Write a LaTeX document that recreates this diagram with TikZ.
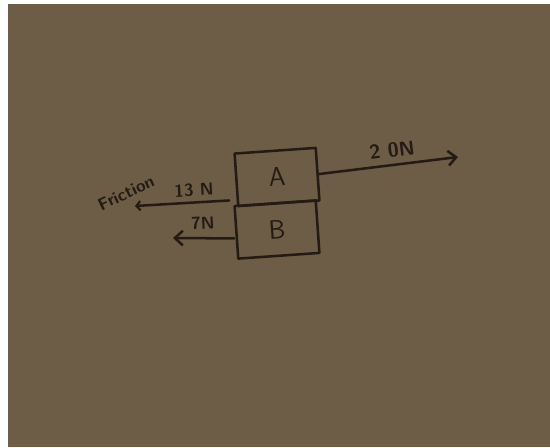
\documentclass[tikz,border=0pt]{standalone}
\usepackage{fontspec}
\usetikzlibrary{arrows.meta,calc}
\definecolor{paper}{RGB}{109,92,70}
\definecolor{ink}{RGB}{36,28,20}
\begin{document}
\begin{tikzpicture}[x=0.75pt,y=-0.75pt,
  ink/.style={draw=ink,line width=1.9pt,line cap=round,line join=round},
  blockbox/.style={ink,rectangle,rotate=4,minimum width=61pt,minimum height=39.5pt,inner sep=0pt,text=ink,font=\sffamily\fontsize{20}{20}\selectfont},
  lbl/.style={text=ink,inner sep=0pt,font=\sffamily},
  force/.style={ink,-{Straight Barb[length=6pt,width=11pt,line width=1.9pt]}}]
\useasboundingbox (0,0) rectangle (550,447);
\fill[white] (0,0) rectangle (550,447);
\fill[paper] (8,4) rectangle (550,447);
\node[blockbox] (A) at (277,177) {A};
\node[blockbox] (B) at (277,229.5) {B};
\coordinate (r) at (458,157);
\coordinate (f) at (135,206);
\coordinate (s) at (173,238);
\draw[force] (A.east) -- (r);
\draw[force,-{Straight Barb[length=3pt,width=7pt,line width=1.6pt]}] ($(A.south west)+(-8,-7)$) -- (f);
\draw[force] ($(B.west)+(-1,6)$) -- (s);
\node[lbl,rotate=7,font=\sffamily\bfseries\fontsize{15}{15}\selectfont] (t20) at (392,150) {2 0N};
\node[lbl,rotate=3,font=\sffamily\bfseries\fontsize{13}{13}\selectfont] (t13) at (194,190) {13 N};
\node[lbl,rotate=25,font=\sffamily\bfseries\fontsize{13}{13}\selectfont] (tf) at (126,193) {Friction};
\node[lbl,rotate=3,font=\sffamily\bfseries\fontsize{13}{13}\selectfont] (t7) at (203,223) {7N};
\end{tikzpicture}
\end{document}
